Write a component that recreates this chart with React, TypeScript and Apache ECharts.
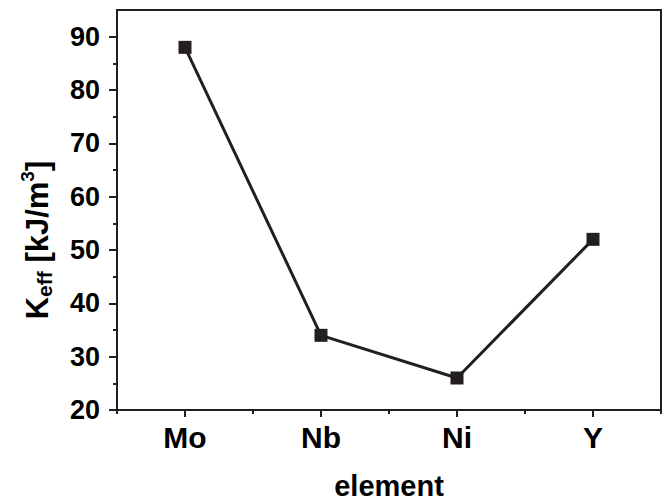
import React, { useEffect, useRef } from "react";
import * as echarts from "echarts";

const categories = ["Mo", "Nb", "Ni", "Y"];
const keffValues = [88, 34, 26, 52];
const yMajorTicks = [20, 30, 40, 50, 60, 70, 80, 90];
const yMinorTicks = [25, 35, 45, 55, 65, 75, 85];
const xMinorTicks = [0, 1, 2, 3, 4];

const INK = "#231f20";
const FONT = "'Liberation Sans', Arial, Helvetica, sans-serif";

export default function App() {
  const ref = useRef<HTMLDivElement>(null);
  useEffect(() => {
    if (!ref.current) return;
    const chart = echarts.init(ref.current, null, { renderer: "svg" });
    chart.setOption({
      animation: false,
      backgroundColor: "#ffffff",
      grid: {
        left: 117,
        right: 7,
        top: 10,
        bottom: 91,
        outerBoundsMode: "none",
        containLabel: false,
        show: true,
        borderColor: INK,
        borderWidth: 2,
        backgroundColor: "transparent",
      },
      xAxis: [
        {
          type: "category",
          data: categories,
          boundaryGap: true,
          axisLine: { show: true, lineStyle: { color: INK, width: 2 } },
          axisTick: { show: true, alignWithLabel: true, length: 7, lineStyle: { color: INK, width: 2 } },
          axisLabel: {
            color: "#000",
            fontFamily: FONT,
            fontWeight: "bold",
            fontSize: 30,
            margin: 12,
          },
          splitLine: { show: false },
          name: "element",
          nameLocation: "middle",
          nameGap: 61,
          nameTextStyle: { color: "#000", fontFamily: FONT, fontWeight: "bold", fontSize: 29 },
        },
        {
          type: "value",
          min: 0,
          max: 4,
          interval: 1,
          position: "bottom",
          axisLine: { show: false },
          axisTick: { show: true, length: 4, customValues: xMinorTicks, lineStyle: { color: INK, width: 2 } },
          axisLabel: { show: false },
          splitLine: { show: false },
        },
      ],
      yAxis: [
        {
          type: "value",
          min: 20,
          max: 95,
          interval: 10,
          axisLine: { show: true, lineStyle: { color: INK, width: 2 } },
          axisTick: { show: true, length: 8, customValues: yMajorTicks, lineStyle: { color: INK, width: 2 } },
          axisLabel: {
            customValues: yMajorTicks,
            color: "#000",
            fontFamily: FONT,
            fontWeight: "bold",
            fontSize: 27,
            margin: 17,
          },
          splitLine: { show: false },
        },
        {
          type: "value",
          min: 20,
          max: 95,
          interval: 10,
          position: "left",
          axisLine: { show: false },
          axisTick: { show: true, length: 4, customValues: yMinorTicks, lineStyle: { color: INK, width: 2 } },
          axisLabel: { show: false },
          splitLine: { show: false },
        },
      ],
      graphic: [
        {
          type: "text",
          x: 37,
          y: 240,
          rotation: Math.PI / 2,
          style: {
            text: "K{sub|eff} [kJ/m{sup|3}]",
            fill: "#000",
            font: `bold 31px ${FONT}`,
            align: "center",
            verticalAlign: "middle",
            rich: {
              sub: { fontSize: 21, fontWeight: "bold", fontFamily: FONT, fill: "#000", padding: [15, 0, 0, 0] },
              sup: { fontSize: 19, fontWeight: "bold", fontFamily: FONT, fill: "#000", padding: [0, 0, 20, 0] },
            },
          },
        },
      ],
      series: [
        {
          type: "line",
          xAxisIndex: 0,
          yAxisIndex: 0,
          data: keffValues,
          symbol: "rect",
          symbolSize: 13,
          itemStyle: { color: INK },
          lineStyle: { color: INK, width: 3 },
        },
      ],
    });
    return () => chart.dispose();
  }, []);
  return <div ref={ref} style={{ width: 668, height: 501, position: "absolute", left: 0, top: 0 }} />;
}
